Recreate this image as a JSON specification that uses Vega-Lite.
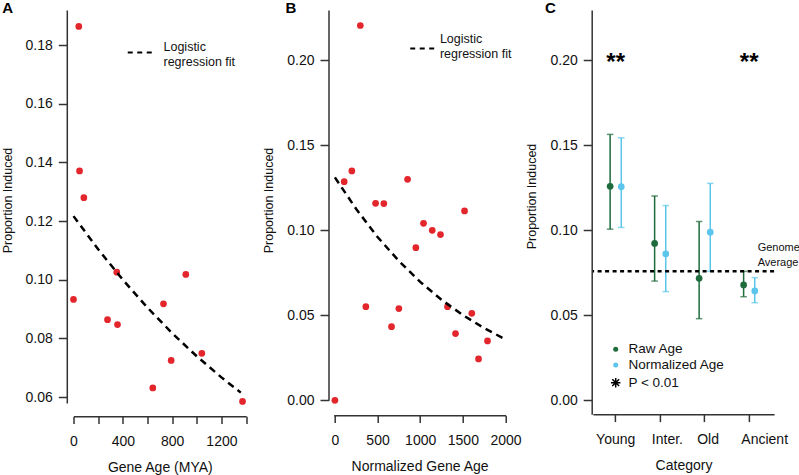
{
  "$schema": "https://vega.github.io/schema/vega-lite/v6.json",
  "background": "white",
  "padding": {"left": 0.5, "top": 0, "right": 0, "bottom": 0},
  "autosize": {"type": "pad"},
  "config": {
    "view": {"stroke": null},
    "font": "Liberation Sans",
    "axis": {"grid": false, "domainColor": "#333333", "domainWidth": 1.5, "tickColor": "#333333", "tickWidth": 1.5, "labelFont": "Liberation Sans", "labelFontSize": 14, "labelColor": "#111111", "titleFont": "Liberation Sans", "titleFontSize": 14, "titleFontWeight": "normal", "titleColor": "#111111", "labelFlush": false, "labelOverlap": false},
    "axisY": {"titleFontSize": 12.5},
    "text": {"font": "Liberation Sans", "color": "#111111"}
  },
  "bounds": "flush",
  "spacing": 87.2,
  "hconcat": [
    {
      "width": 172.6,
      "height": 392.9,
      "encoding": {
        "x": {"field": "x", "type": "quantitative", "scale": {"domain": [0, 1400], "nice": false, "zero": false},
          "axis": {"title": "Gene Age (MYA)", "values": [0, 200, 400, 600, 800, 1000, 1200, 1400], "format": "d", "labelExpr": "datum.value % 400 === 0 ? datum.label : ''", "offset": 13.4, "tickSize": 7.3, "labelPadding": 11, "titlePadding": 12}},
        "y": {"field": "y", "type": "quantitative", "scale": {"domain": [0.058, 0.192], "nice": false, "zero": false},
          "axis": {"title": "Proportion Induced", "values": [0.06, 0.08, 0.1, 0.12, 0.14, 0.16, 0.18], "format": ".2f", "offset": 6.7, "tickSize": 8.5, "labelPadding": 6, "titlePadding": 11, "titleY": 190}}
      },
      "layer": [
        {
          "data": {"values": [
            {"x": 0, "y": 0.0933}, {"x": 43, "y": 0.1864}, {"x": 49, "y": 0.1371}, {"x": 84, "y": 0.128},
            {"x": 276, "y": 0.0864}, {"x": 351, "y": 0.1026}, {"x": 357, "y": 0.0847}, {"x": 643, "y": 0.0631},
            {"x": 730, "y": 0.0918}, {"x": 792, "y": 0.0725}, {"x": 911, "y": 0.1018}, {"x": 1041, "y": 0.0749},
            {"x": 1371, "y": 0.0585}
          ]},
          "mark": {"type": "circle", "color": "#e3262b", "size": 45, "opacity": 1}
        },
        {
          "data": {"values": [
            {"x": 0, "y": 0.1217}, {"x": 200, "y": 0.1104}, {"x": 400, "y": 0.1}, {"x": 600, "y": 0.0905},
            {"x": 800, "y": 0.0818}, {"x": 1000, "y": 0.0739}, {"x": 1200, "y": 0.0667}, {"x": 1357, "y": 0.0615}
          ]},
          "mark": {"type": "line", "color": "black", "strokeWidth": 2.5, "strokeDash": [7, 5]}
        },
        {
          "data": {"values": [{"x": 440, "x2": 635, "y": 0.17747}]},
          "mark": {"type": "rule", "color": "black", "strokeWidth": 2, "strokeDash": [5, 4.5]},
          "encoding": {"x2": {"field": "x2"}}
        },
        {
          "data": {"values": [{"x": 730, "y": 0.17938, "t": "Logistic"}, {"x": 730, "y": 0.1744, "t": "regression fit"}]},
          "mark": {"type": "text", "align": "left", "baseline": "middle", "fontSize": 12.5},
          "encoding": {"text": {"field": "t"}}
        },
        {
          "data": {"values": [{"x": 0, "y": 0.191, "t": "A"}]},
          "mark": {"type": "text", "align": "left", "baseline": "alphabetic", "fontSize": 15, "fontWeight": "bold", "dx": -71.2, "color": "black"},
          "encoding": {"text": {"field": "t"}}
        }
      ]
    },
    {
      "width": 171.8,
      "height": 390.3,
      "encoding": {
        "x": {"field": "x", "type": "quantitative", "scale": {"domain": [-14, 2000], "nice": false, "zero": false},
          "axis": {"title": "Normalized Gene Age", "values": [0, 500, 1000, 1500, 2000], "format": "d", "offset": 15, "tickSize": 7.3, "labelPadding": 11, "titlePadding": 12}},
        "y": {"field": "y", "type": "quantitative", "scale": {"domain": [0, 0.2294], "nice": false, "zero": false},
          "axis": {"title": "Proportion Induced", "values": [0, 0.05, 0.1, 0.15, 0.2], "format": ".2f", "offset": 5.2, "tickSize": 8.5, "labelPadding": 6, "titlePadding": 11, "titleY": 190}}
      },
      "layer": [
        {
          "data": {"values": [
            {"x": 0, "y": 0}, {"x": 109, "y": 0.1285}, {"x": 199, "y": 0.1348}, {"x": 298, "y": 0.2203},
            {"x": 363, "y": 0.055}, {"x": 477, "y": 0.1158}, {"x": 574, "y": 0.1156}, {"x": 664, "y": 0.0433},
            {"x": 750, "y": 0.0539}, {"x": 852, "y": 0.1299}, {"x": 949, "y": 0.0897}, {"x": 1039, "y": 0.104},
            {"x": 1141, "y": 0.0999}, {"x": 1238, "y": 0.0974}, {"x": 1320, "y": 0.055}, {"x": 1414, "y": 0.0392},
            {"x": 1520, "y": 0.1113}, {"x": 1605, "y": 0.0511}, {"x": 1684, "y": 0.0243}, {"x": 1789, "y": 0.0349}
          ]},
          "mark": {"type": "circle", "color": "#e3262b", "size": 45, "opacity": 1}
        },
        {
          "data": {"values": [
            {"x": 0, "y": 0.131}, {"x": 250, "y": 0.1124}, {"x": 500, "y": 0.096}, {"x": 750, "y": 0.0819},
            {"x": 1000, "y": 0.0696}, {"x": 1250, "y": 0.0591}, {"x": 1500, "y": 0.0501}, {"x": 1750, "y": 0.0424},
            {"x": 2000, "y": 0.0358}
          ]},
          "mark": {"type": "line", "color": "black", "strokeWidth": 2.5, "strokeDash": [7, 5]}
        },
        {
          "data": {"values": [{"x": 883, "x2": 1164, "y": 0.2067}]},
          "mark": {"type": "rule", "color": "black", "strokeWidth": 2, "strokeDash": [5, 4.5]},
          "encoding": {"x2": {"field": "x2"}}
        },
        {
          "data": {"values": [{"x": 1231, "y": 0.2122, "t": "Logistic"}, {"x": 1231, "y": 0.2034, "t": "regression fit"}]},
          "mark": {"type": "text", "align": "left", "baseline": "middle", "fontSize": 12.5},
          "encoding": {"text": {"field": "t"}}
        },
        {
          "data": {"values": [{"x": 0, "y": 0.2278, "t": "B"}]},
          "mark": {"type": "text", "align": "left", "baseline": "alphabetic", "fontSize": 15, "fontWeight": "bold", "dx": -49.4, "color": "black"},
          "encoding": {"text": {"field": "t"}}
        }
      ]
    },
    {
      "width": 181.2,
      "height": 404.3,
      "layer": [
        {
          "data": {"name": "cdata", "values": [
            {"category": "Young", "series": "Raw Age", "p": 0.1258, "lo": 0.1006, "hi": 0.1563},
            {"category": "Young", "series": "Normalized Age", "p": 0.1256, "lo": 0.1016, "hi": 0.1543},
            {"category": "Inter.", "series": "Raw Age", "p": 0.0922, "lo": 0.0701, "hi": 0.1201},
            {"category": "Inter.", "series": "Normalized Age", "p": 0.0861, "lo": 0.0639, "hi": 0.1145},
            {"category": "Old", "series": "Raw Age", "p": 0.0717, "lo": 0.048, "hi": 0.1051},
            {"category": "Old", "series": "Normalized Age", "p": 0.0988, "lo": 0.0758, "hi": 0.1275},
            {"category": "Ancient", "series": "Raw Age", "p": 0.0678, "lo": 0.0609, "hi": 0.0758},
            {"category": "Ancient", "series": "Normalized Age", "p": 0.0643, "lo": 0.0574, "hi": 0.0721}
          ]},
          "mark": {"type": "rule", "strokeWidth": 1.5},
          "encoding": {
            "x": {"field": "category", "type": "nominal", "sort": null,
              "scale": {"domain": ["Young", "Inter.", "Old", "Ancient"], "paddingInner": 0, "paddingOuter": 0.036, "align": 0.17},
              "axis": {"title": "Category", "bandPosition": 0.5, "labelAngle": 0, "tickSize": 7.3, "labelPadding": 11, "titlePadding": 12,
                "labelOffset": {"condition": [
                  {"test": "datum.value === 'Inter.'", "value": 7.2},
                  {"test": "datum.value === 'Old'", "value": 3.4},
                  {"test": "datum.value === 'Ancient'", "value": 15.5}
                ], "value": 0}}},
            "xOffset": {"field": "series", "type": "nominal", "scale": {"domain": ["Raw Age", "Normalized Age"], "paddingInner": 0, "paddingOuter": 1.5}},
            "y": {"field": "lo", "type": "quantitative", "scale": {"domain": [-0.0082, 0.2294], "nice": false, "zero": false},
              "axis": {"title": "Proportion Induced", "values": [0, 0.05, 0.1, 0.15, 0.2], "format": ".2f", "offset": 1.2, "tickSize": 8.5, "labelPadding": 6, "titlePadding": 11, "titleY": 186}},
            "y2": {"field": "hi"},
            "color": {"field": "series", "type": "nominal", "scale": {"domain": ["Raw Age", "Normalized Age"], "range": ["#1e6b3c", "#5bc5ec"]}, "legend": null}
          }
        },
        {
          "data": {"name": "cdata"},
          "mark": {"type": "tick", "size": 6.5, "thickness": 1.5, "orient": "horizontal"},
          "encoding": {
            "x": {"field": "category", "type": "nominal", "sort": null},
            "xOffset": {"field": "series", "type": "nominal"},
            "y": {"field": "lo", "type": "quantitative"},
            "color": {"field": "series", "type": "nominal"}
          }
        },
        {
          "data": {"name": "cdata"},
          "mark": {"type": "tick", "size": 6.5, "thickness": 1.5, "orient": "horizontal"},
          "encoding": {
            "x": {"field": "category", "type": "nominal", "sort": null},
            "xOffset": {"field": "series", "type": "nominal"},
            "y": {"field": "hi", "type": "quantitative"},
            "color": {"field": "series", "type": "nominal"}
          }
        },
        {
          "data": {"name": "cdata"},
          "mark": {"type": "circle", "size": 45, "opacity": 1},
          "encoding": {
            "x": {"field": "category", "type": "nominal", "sort": null},
            "xOffset": {"field": "series", "type": "nominal"},
            "y": {"field": "p", "type": "quantitative"},
            "color": {"field": "series", "type": "nominal"}
          }
        },
        {
          "data": {"values": [{"y": 0.0758}]},
          "mark": {"type": "rule", "color": "black", "strokeWidth": 2.5, "strokeDash": [4, 3.5]},
          "encoding": {"y": {"field": "y", "type": "quantitative"}}
        },
        {
          "data": {"values": [{"category": "Young", "y": 0.1941, "t": "**"}, {"category": "Ancient", "y": 0.1941, "t": "**"}]},
          "mark": {"type": "text", "align": "center", "baseline": "alphabetic", "fontSize": 24, "fontWeight": "bold", "color": "black"},
          "encoding": {
            "x": {"field": "category", "type": "nominal", "sort": null},
            "y": {"field": "y", "type": "quantitative"},
            "text": {"field": "t"}
          }
        },
        {
          "data": {"values": [{"category": "Ancient", "y": 0.0898, "t": "Genome"}, {"category": "Ancient", "y": 0.0809, "t": "Average"}]},
          "mark": {"type": "text", "align": "left", "baseline": "middle", "fontSize": 11, "dx": 8.5},
          "encoding": {
            "x": {"field": "category", "type": "nominal", "sort": null},
            "y": {"field": "y", "type": "quantitative"},
            "text": {"field": "t"}
          }
        },
        {
          "data": {"values": [{"category": "Young", "y": 0.03, "series": "Raw Age"}, {"category": "Young", "y": 0.0208, "series": "Normalized Age"}]},
          "mark": {"type": "circle", "size": 25, "opacity": 1},
          "encoding": {
            "x": {"field": "category", "type": "nominal", "sort": null},
            "y": {"field": "y", "type": "quantitative"},
            "color": {"field": "series", "type": "nominal"}
          }
        },
        {
          "data": {"values": [{"category": "Young", "y": 0.0104}]},
          "mark": {"type": "point", "shape": "M-1,0L1,0M0,-1L0,1M-0.72,-0.72L0.72,0.72M-0.72,0.72L0.72,-0.72", "filled": false, "stroke": "black", "strokeWidth": 1.5, "size": 90, "opacity": 1},
          "encoding": {
            "x": {"field": "category", "type": "nominal", "sort": null},
            "y": {"field": "y", "type": "quantitative"}
          }
        },
        {
          "data": {"values": [{"category": "Young", "y": 0.03, "t": "Raw Age"}, {"category": "Young", "y": 0.0208, "t": "Normalized Age"}, {"category": "Young", "y": 0.0104, "t": "P < 0.01"}]},
          "mark": {"type": "text", "align": "left", "baseline": "middle", "fontSize": 13.5, "dx": 12.7},
          "encoding": {
            "x": {"field": "category", "type": "nominal", "sort": null},
            "y": {"field": "y", "type": "quantitative"},
            "text": {"field": "t"}
          }
        },
        {
          "data": {"values": [{"category": "Young", "y": 0.2278, "t": "C"}]},
          "mark": {"type": "text", "align": "left", "baseline": "alphabetic", "fontSize": 15, "fontWeight": "bold", "dx": -70.6, "color": "black"},
          "encoding": {
            "x": {"field": "category", "type": "nominal", "sort": null},
            "y": {"field": "y", "type": "quantitative"},
            "text": {"field": "t"}
          }
        }
      ]
    }
  ]
}
